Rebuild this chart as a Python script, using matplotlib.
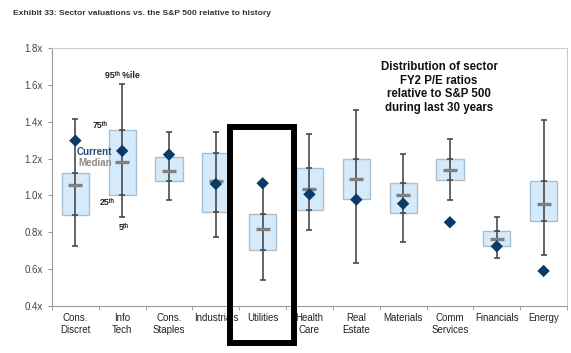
import matplotlib
matplotlib.use("Agg")
import matplotlib.pyplot as plt
from matplotlib.patches import Rectangle
import numpy as np

categories = ["Cons.\nDiscret", "Info\nTech", "Cons.\nStaples", "Industrials", "Utilities",
              "Health\nCare", "Real\nEstate", "Materials", "Comm\nServices", "Financials", "Energy"]
p5     = [0.727, 0.881, 0.973, 0.774, 0.538, 0.810, 0.634, 0.747, 0.977, 0.661, 0.678]
p25    = [0.894, 1.002, 1.077, 0.908, 0.703, 0.922, 0.979, 0.906, 1.084, 0.723, 0.859]
median = [1.055, 1.183, 1.133, 1.078, 0.816, 1.037, 1.091, 1.000, 1.140, 0.761, 0.952]
p75    = [1.124, 1.354, 1.211, 1.229, 0.901, 1.147, 1.200, 1.066, 1.198, 0.808, 1.077]
p95    = [1.416, 1.606, 1.345, 1.345, 1.066, 1.334, 1.464, 1.223, 1.305, 0.883, 1.412]
current = [1.298, 1.242, 1.222, 1.062, 1.066, 1.006, 0.977, 0.955, 0.854, 0.723, 0.589]
yticks = [0.4, 0.6, 0.8, 1.0, 1.2, 1.4, 1.6, 1.8]

FONT = ["Liberation Sans", "DejaVu Sans"]
plt.rcParams["font.family"] = FONT

fig = plt.figure(figsize=(5.71, 3.53), dpi=100)
ax = fig.add_axes([0.091, 0.134, 0.902, 0.729])

x = np.arange(len(categories))
bw = 0.58
ax.bar(x, np.array(p75) - np.array(p25), bottom=p25, width=bw,
       color="#d5eafb", edgecolor="#a9bfd0", linewidth=1.0, zorder=2)
ax.errorbar(x, p25, yerr=[np.array(p25) - np.array(p5), np.zeros(len(x))], fmt="none",
            ecolor="#4a4a4a", elinewidth=1.2, capsize=2.5, capthick=1.2, zorder=3)
ax.errorbar(x, p75, yerr=[np.zeros(len(x)), np.array(p95) - np.array(p75)], fmt="none",
            ecolor="#4a4a4a", elinewidth=1.2, capsize=2.5, capthick=1.2, zorder=3)
ax.vlines(x, p25, p75, color="#4a4a4a", linewidth=1.2, zorder=3)
ax.scatter(x, median, marker="_", s=100, linewidths=2.4, color="#808080", zorder=4)
ax.scatter(x, current, marker="D", s=40, color="#0b3a66", edgecolors="none", zorder=5)

ax.set_xlim(-0.5, 10.5)
ax.set_ylim(0.4, 1.8)
ax.set_yticks(yticks)
ax.set_yticklabels([f"{v:.1f}x" for v in yticks], fontsize=7, color="#444444")
ax.set_xticks(x)
ax.set_xticklabels(categories, fontsize=7, color="#222222", linespacing=1.3)
ax.tick_params(axis="x", length=0, pad=5)
ax.set_xticks(np.arange(-0.5, 10.6, 1.0), minor=True)
ax.tick_params(axis="x", which="minor", length=3, color="#999999", direction="out")
ax.tick_params(axis="y", length=3, color="#999999")
for s in ["left", "bottom"]:
    ax.spines[s].set_color("#999999")
for s in ["top", "right"]:
    ax.spines[s].set_color("#cccccc")

# annotation labels
kw = dict(fontsize=6.3, fontweight="bold", family=FONT)
ax.text(1.0, 1.655, "95ᵗʰ %ile", ha="center", va="center", color="#222222", **kw)
ax.text(0.52, 1.383, "75ᵗʰ", ha="center", va="center", color="#222222", **kw)
ax.text(0.78, 1.238, "Current", ha="right", va="center", color="#1f4e79",
        fontsize=7, fontweight="bold")
ax.text(0.78, 1.176, "Median", ha="right", va="center", color="#8c8c8c",
        fontsize=7, fontweight="bold")
ax.text(0.67, 0.959, "25ᵗʰ", ha="center", va="center", color="#222222", **kw)
ax.text(1.03, 0.823, "5ᵗʰ", ha="center", va="center", color="#222222", **kw)

ax.text(7.77, 1.587, "Distribution of sector\nFY2 P/E ratios\nrelative to S&P 500\nduring last 30 years",
        ha="center", va="center", fontsize=8.3, fontweight="bold", color="#111111",
        linespacing=1.2)

# highlight box around Utilities
ax.add_patch(Rectangle((3.31, 0.198), 4.66 - 3.31, 1.37 - 0.198, fill=False,
                       edgecolor="black", linewidth=4.3, clip_on=False, zorder=6))

fig.text(0.023, 0.963, "Exhibit 33: Sector valuations vs. the S&P 500 relative to history",
         fontsize=6.1, fontweight="bold", color="#333333", va="center")

fig.savefig("out.png", dpi=100)
